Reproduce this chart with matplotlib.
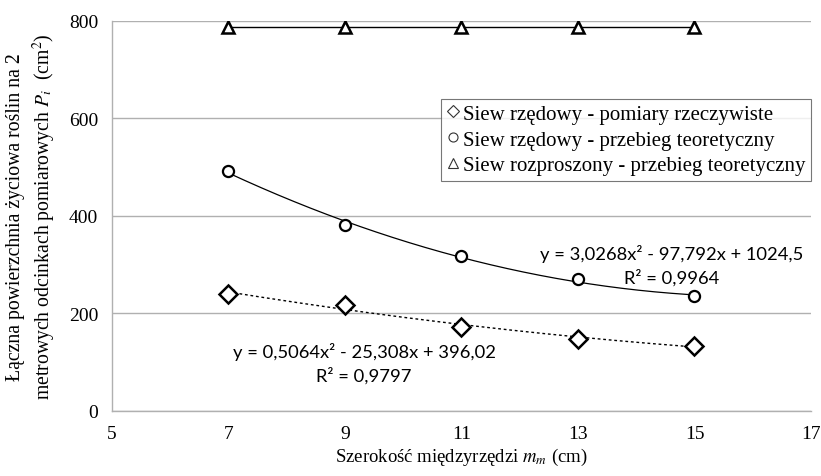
import matplotlib.pyplot as plt
import numpy as np

plt.rcParams['mathtext.fontset'] = 'stix'

# Szerokość międzyrzędzi (cm)
rozstaw = [7, 9, 11, 13, 15]
# Siew rzędowy - pomiary rzeczywiste
pomiary = [240, 218, 173, 148, 134]
# Siew rzędowy - przebieg teoretyczny
teoria_rz = [492, 381, 317, 270, 235]
# Siew rozproszony - przebieg teoretyczny
teoria_roz = [787, 787, 787, 787, 787]

eq_rz = "y = 3,0268x\u00b2 - 97,792x + 1024,5\nR\u00b2 = 0,9964"
eq_pom = "y = 0,5064x\u00b2 - 25,308x + 396,02\nR\u00b2 = 0,9797"

serif = 'Liberation Serif'

fig = plt.figure(figsize=(8.21, 4.77), dpi=100)
ax = fig.add_axes([0.1364, 0.1363, 0.8514, 0.8176])

# trend lines (2nd order polynomial, as in Excel)
xs = np.linspace(7, 15, 200)
p1 = np.polyfit(rozstaw, teoria_rz, 2)
p2 = np.polyfit(rozstaw, pomiary, 2)
ax.plot(xs, np.polyval(p1, xs), color='black', lw=0.9, zorder=2)
ax.plot(xs, np.polyval(p2, xs), color='black', lw=1.0, ls=(0, (2, 2)), zorder=2)
ax.plot(rozstaw, teoria_roz, color='black', lw=1.0, zorder=2)

ax.plot(rozstaw, pomiary, ls='none', marker='D', ms=9, mfc='white', mec='black', mew=1.8, zorder=3)
ax.plot(rozstaw, teoria_rz, ls='none', marker='o', ms=8, mfc='white', mec='black', mew=1.6, zorder=3)
ax.plot(rozstaw, teoria_roz, ls='none', marker='^', ms=8, mfc='white', mec='black', mew=1.8, zorder=3)

# legend handles (markers only)
h1, = ax.plot([], [], ls='none', marker='D', ms=6.5, mfc='white', mec='#333333', mew=0.8)
h2, = ax.plot([], [], ls='none', marker='o', ms=6.5, mfc='white', mec='#333333', mew=0.8)
h3, = ax.plot([], [], ls='none', marker='^', ms=6.5, mfc='white', mec='#333333', mew=0.8)
leg = ax.legend([h1, h2, h3],
                ['Siew rzędowy - pomiary rzeczywiste',
                 'Siew rzędowy - przebieg teoretyczny',
                 'Siew rozproszony - przebieg teoretyczny'],
                loc='upper right', bbox_to_anchor=(1.0, 0.80),
                prop={'family': serif, 'size': 15}, frameon=True, fancybox=False,
                handlelength=0.6, handletextpad=0.2, borderpad=0.25, labelspacing=0.3,
                borderaxespad=0)
leg.get_frame().set_edgecolor('#555555')
leg.get_frame().set_linewidth(0.8)

ax.text(14.6, 300, eq_rz, ha='center', va='center', fontsize=13.2,
        family='Lato', linespacing=1.45)
ax.text(9.33, 99, eq_pom, ha='center', va='center', fontsize=13.2,
        family='Lato', linespacing=1.45)

ax.set_xlim(5, 17)
ax.set_ylim(0, 800)
ax.set_xticks(range(5, 18, 2))
ax.set_yticks(range(0, 801, 200))
ax.yaxis.grid(True, color='#b0b0b0', lw=1.0)
ax.set_axisbelow(True)
for s in ['top', 'right']:
    ax.spines[s].set_visible(False)
for s in ['left', 'bottom']:
    ax.spines[s].set_color('#b0b0b0')
    ax.spines[s].set_linewidth(1.0)
ax.tick_params(length=0, pad=10, labelsize=14)
for lab in ax.get_xticklabels() + ax.get_yticklabels():
    lab.set_family(serif)

ax.set_xlabel('Szerokość międzyrzędzi $m_m$ (cm)', family=serif, fontsize=13.5, labelpad=3)
ax.set_ylabel('Łączna powierzchnia życiowa roślin na 2\nmetrowych odcinkach pomiarowych $P_i$  (cm$^2$)',
              family=serif, fontsize=14.2, labelpad=8, linespacing=1.3)

fig.savefig('out.png', dpi=100)
